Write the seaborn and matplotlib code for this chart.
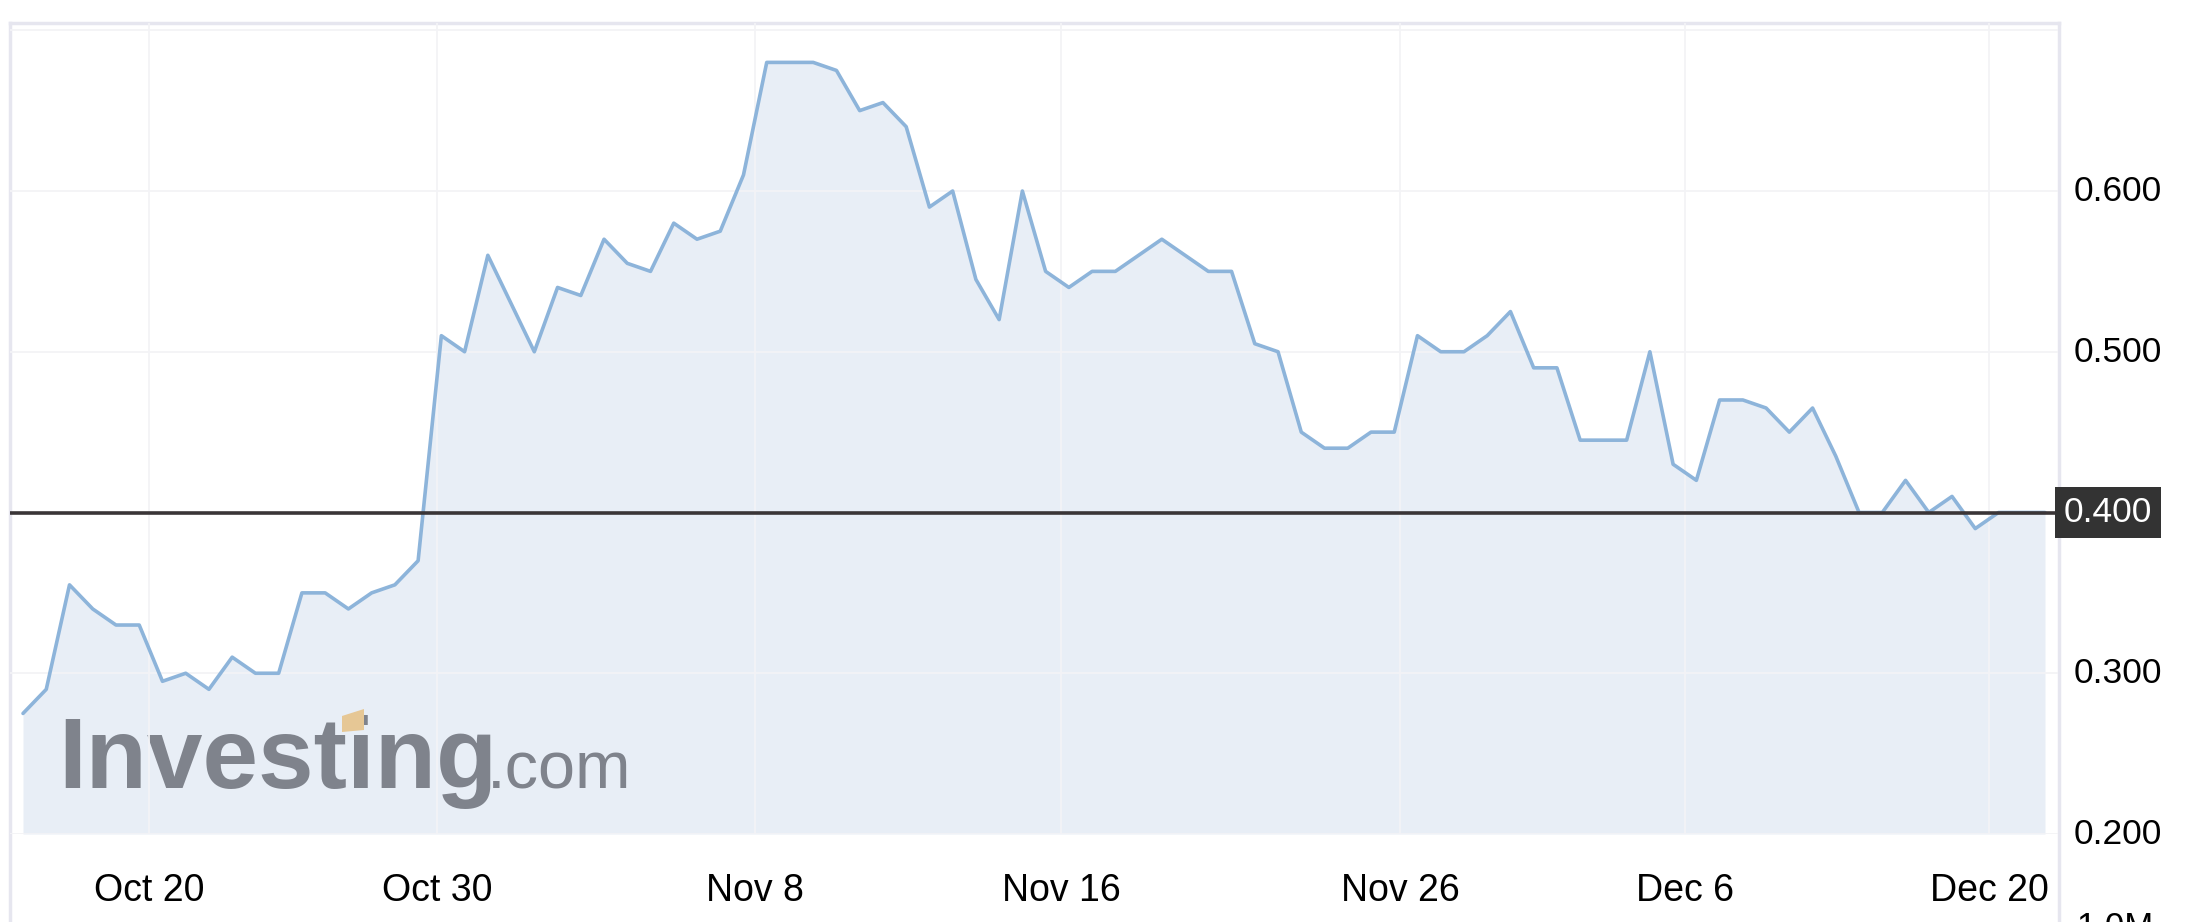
import numpy as np
import pandas as pd
import matplotlib
matplotlib.use("Agg")
import matplotlib.pyplot as plt
import matplotlib.transforms as mtransforms
import seaborn as sns
from matplotlib.patches import Polygon

# closing prices, one per session
prices = [0.275, 0.29, 0.355, 0.34, 0.33, 0.33, 0.295, 0.30, 0.29, 0.31,
          0.30, 0.30, 0.35, 0.35, 0.34, 0.35, 0.355, 0.37, 0.51, 0.50,
          0.56, 0.53, 0.50, 0.54, 0.535, 0.57, 0.555, 0.55, 0.58, 0.57,
          0.575, 0.61, 0.68, 0.68, 0.68, 0.675, 0.65, 0.655, 0.64, 0.59,
          0.60, 0.545, 0.52, 0.60, 0.55, 0.54, 0.55, 0.55, 0.56, 0.57,
          0.56, 0.55, 0.55, 0.505, 0.50, 0.45, 0.44, 0.44, 0.45, 0.45,
          0.51, 0.50, 0.50, 0.51, 0.525, 0.49, 0.49, 0.445, 0.445, 0.445,
          0.50, 0.43, 0.42, 0.47, 0.47, 0.465, 0.45, 0.465, 0.435, 0.40,
          0.40, 0.42, 0.40, 0.41, 0.39, 0.40, 0.40, 0.40]

# date labels and where they fall along the session axis
tick_labels = ["Oct 20", "Oct 30", "Nov 8", "Nov 16", "Nov 26", "Dec 6", "Dec 20"]
tick_pos = [5.44, 17.81, 31.50, 44.66, 59.25, 71.51, 84.60]

grid_levels = [0.2, 0.3, 0.4, 0.5, 0.6, 0.7]
grid_labels = ["0.200", "0.300", "", "0.500", "0.600", ""]
last_price = 0.400

df = pd.DataFrame({"step": np.arange(len(prices)), "price": prices})

sns.set_style("white")
plt.rcParams["font.family"] = ["Liberation Sans", "DejaVu Sans"]

W, H = 2186, 922
fig = plt.figure(figsize=(W / 100, H / 100), dpi=100)

# outer frame, runs off the bottom of the picture
frame = fig.add_axes([10 / W, -0.2, 2048.5 / W, 1.2 - 23 / H])
frame.set_xticks([])
frame.set_yticks([])
frame.set_facecolor("white")
for s in frame.spines.values():
    s.set_color("#e6e6ef")
    s.set_linewidth(2.5)

ax = fig.add_axes([10 / W, 88 / H, 2048 / W, 810.5 / H])
ax.patch.set_visible(False)

ax.fill_between(df["step"], df["price"], 0.2, color="#e8eef6", lw=0, zorder=1)
sns.lineplot(data=df, x="step", y="price", ax=ax, color="#8db4da", lw=2.6, zorder=3)

ax.set_xlim(-0.56, 87.56)
ax.set_ylim(0.2, 0.7042)
ax.set_xticks(tick_pos, tick_labels)
ax.set_yticks(grid_levels, grid_labels)
ax.yaxis.tick_right()
ax.tick_params(axis="x", length=0, pad=28, labelsize=27, colors="black")
ax.tick_params(axis="y", length=0, pad=11, labelsize=25.5, colors="black")
ax.set_xlabel("")
ax.set_ylabel("")
ax.set_axisbelow("line")
ax.grid(True, color="#f3f3f6", lw=1.3)
for s in ax.spines.values():
    s.set_visible(False)

# price labels sit a touch above their gridlines
nudge = mtransforms.ScaledTranslation(0, 3 / 100, fig.dpi_scale_trans)
for lbl in ax.get_yticklabels():
    lbl.set_transform(lbl.get_transform() + nudge)

# last price line and its label box
ax.axhline(last_price, color="#3a3537", lw=2.6, zorder=4)
ax.annotate(f"{last_price:.3f}", xy=(1, last_price), xycoords=ax.get_yaxis_transform(),
            xytext=(4.2, 0), textcoords="offset points", ha="left", va="center",
            fontsize=25.5, color="white", zorder=6, annotation_clip=False,
            bbox=dict(boxstyle="square,pad=0.25", fc="#333333", ec="none"))

# watermark
ax.text(58 / W, 1 - 788 / H, "Investing", transform=fig.transFigure, fontsize=72,
        fontweight="bold", color="#7f838c", ha="left", va="baseline", zorder=1.5)
ax.text(487 / W, 1 - 788 / H, ".com", transform=fig.transFigure, fontsize=48,
        color="#7f838c", ha="left", va="baseline", zorder=1.5)
tan = Polygon([(342 / W, 1 - 716 / H), (364 / W, 1 - 709 / H),
               (364 / W, 1 - 730 / H), (342 / W, 1 - 732 / H)],
              closed=True, transform=fig.transFigure, fc="#e6c795", ec="none", zorder=1.6)
ax.add_patch(tan)

# volume axis label, cut off at the bottom edge as in the source
fig.text(2076 / W, 1 - 911 / H, "1.0M", fontsize=25, color="black", ha="left", va="top")

fig.savefig("out.png", dpi=100)
